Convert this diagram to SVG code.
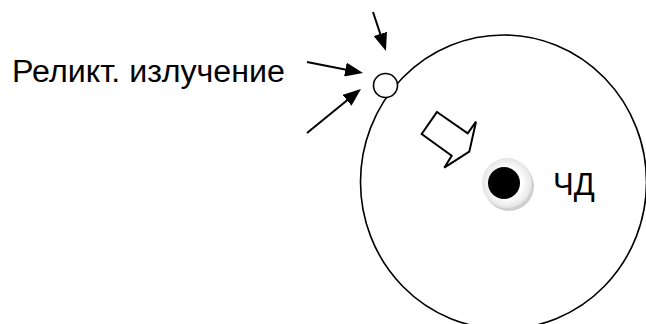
<svg xmlns="http://www.w3.org/2000/svg" width="646" height="324" viewBox="0 0 646 324">
<defs>
<style>
.lbl{font-family:"Liberation Sans",Arial,sans-serif;fill:#000}
.ln{stroke:#000;stroke-width:2;fill:none}
.thin{stroke:#000;stroke-width:1.6;fill:#fff}
</style>
<marker id="ah" viewBox="0 0 18 14" refX="14" refY="7" markerWidth="18" markerHeight="14" markerUnits="userSpaceOnUse" orient="auto">
<path d="M0,0 L18,7 L0,14 z" fill="#000"/>
</marker>
<radialGradient id="disc" cx="0.5" cy="0.5" r="0.5">
<stop offset="0.6" stop-color="#ffffff"/>
<stop offset="1" stop-color="#e4e4e4"/>
</radialGradient>
</defs>
<rect width="646" height="324" fill="#fff"/>
<g id="universe">
<ellipse cx="503.5" cy="182" rx="143" ry="147" class="thin"/>
</g>
<g id="observer">
<circle cx="385.5" cy="85.5" r="12" class="thin"/>
</g>
<g id="motion-arrow">
<polygon points="437,112 467.7,133.3 476,121.7 469.3,151.7 444.3,167.7 451.7,155.7 421.7,134" fill="#fff" stroke="#000" stroke-width="2" stroke-linejoin="miter"/>
</g>
<g id="black-hole">
<circle cx="509" cy="186" r="25" fill="#cfcfcf"/>
<circle cx="507" cy="183" r="25" fill="url(#disc)"/>
<circle cx="504" cy="183" r="16" fill="#000"/>
<text class="lbl" x="553" y="195" font-size="31">ЧД</text>
</g>
<g id="relic-label">
<text class="lbl" x="12" y="82" font-size="31" textLength="273" lengthAdjust="spacingAndGlyphs">Реликт. излучение</text>
</g>
<g id="connectors">
<line class="ln" x1="373" y1="12" x2="384.7" y2="47.2" marker-end="url(#ah)"/>
<line class="ln" x1="307" y1="62" x2="359.1" y2="72.2" marker-end="url(#ah)"/>
<line class="ln" x1="307" y1="133" x2="357.9" y2="91.5" marker-end="url(#ah)"/>
</g>
</svg>
